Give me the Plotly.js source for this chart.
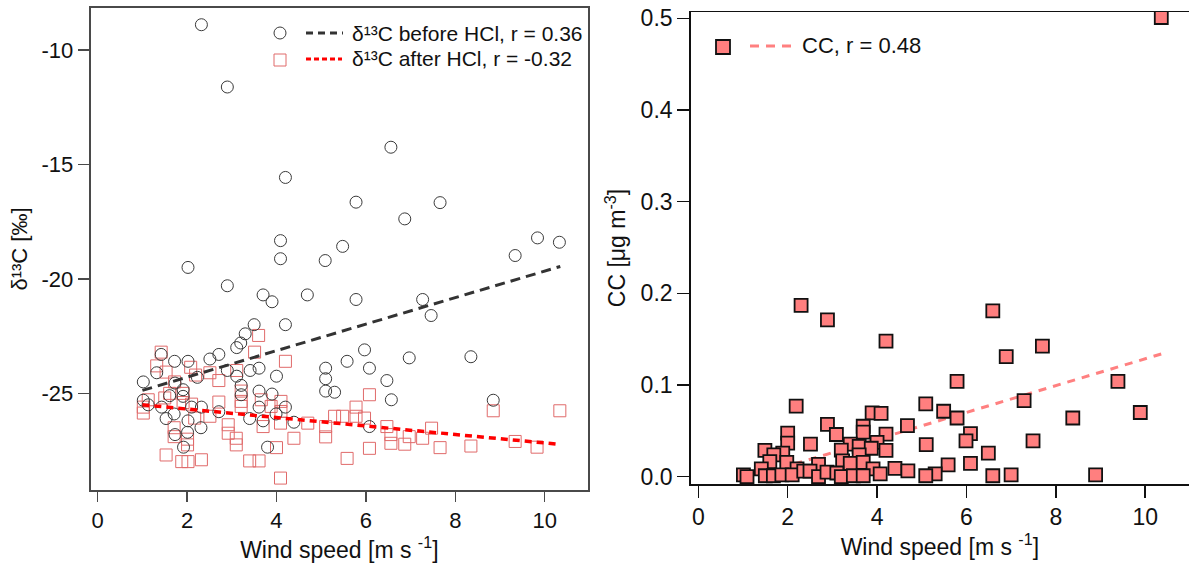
<!DOCTYPE html>
<html>
<head>
<meta charset="utf-8">
<script src="https://cdn.plot.ly/plotly-3.0.1.min.js"></script>
<style>html,body{margin:0;padding:0;background:#fff;}#chart{width:1189px;height:564px;}</style>
</head>
<body>
<div id="chart"></div>
<script>
// ---- Left panel: δ13C vs wind speed ----
const beforeX = [2.32,2.9,6.56,4.2,5.78,7.66,6.87,4.09,4.09,5.09,5.48,9.34,9.84,10.33,2.02,2.9,3.7,3.9,4.69,3.5,4.2,3.3,3.2,3.11,2.71,2.51,2.02,1.72,1.42,1.32,1.02,1.73,2.23,2.9,3.11,3.41,3.61,4.0,5.1,5.1,5.1,5.3,1.02,1.13,1.43,1.61,1.91,1.91,1.71,1.53,1.73,2.01,1.92,2.1,2.32,2.02,2.31,2.71,3.21,3.21,3.61,3.9,3.61,3.4,3.7,3.99,4.2,4.39,3.8,5.78,7.27,7.46,5.97,5.58,6.97,8.35,6.08,6.47,6.57,8.85,6.08];
const beforeY = [-8.9,-11.62,-14.25,-15.57,-16.65,-16.67,-17.38,-18.33,-19.12,-19.2,-18.58,-18.98,-18.21,-18.4,-19.5,-20.3,-20.7,-21.0,-20.7,-22.0,-22.0,-22.4,-22.8,-23.0,-23.3,-23.5,-23.6,-23.6,-23.3,-24.1,-24.5,-24.55,-24.3,-24.0,-24.25,-24.0,-23.9,-24.25,-23.9,-24.36,-24.9,-24.95,-25.3,-25.5,-25.6,-25.1,-24.84,-25.13,-25.9,-26.1,-26.8,-26.7,-27.35,-25.6,-25.6,-26.2,-26.5,-25.8,-24.65,-25.06,-24.9,-25.03,-25.6,-26.1,-26.2,-25.9,-25.6,-26.26,-27.35,-20.9,-20.9,-21.6,-23.1,-23.6,-23.45,-23.4,-23.9,-24.44,-25.28,-25.3,-26.45];

const afterX = [3.6,3.51,4.2,1.42,1.32,1.53,2.08,2.19,2.51,2.71,3.11,1.72,1.61,1.91,3.21,1.02,1.02,1.13,1.5,1.91,2.1,2.71,3.21,3.21,3.66,3.88,4.1,4.1,2.51,2.17,2.92,2.92,3.1,3.1,3.7,4.09,4.7,4.39,5.1,5.1,5.3,1.71,1.71,2.01,2.01,1.53,1.88,2.02,2.32,3.4,3.61,4.0,4.09,6.08,5.78,5.48,5.78,5.97,6.47,6.56,6.56,6.87,6.97,7.27,7.47,6.08,5.58,7.66,8.35,8.85,9.34,9.83,10.34];
const afterY = [-22.47,-23.2,-23.6,-23.2,-23.8,-24.07,-23.86,-24.2,-24.1,-24.44,-24.0,-24.5,-25.0,-25.0,-24.9,-25.6,-25.86,-25.28,-25.2,-25.4,-25.47,-25.38,-25.35,-25.57,-25.28,-25.57,-25.35,-25.79,-26.0,-26.08,-26.37,-26.74,-26.96,-27.25,-26.45,-26.3,-26.3,-26.96,-26.45,-26.9,-26.0,-26.5,-26.89,-27.0,-27.25,-27.69,-27.98,-27.98,-27.9,-27.95,-27.95,-27.37,-28.7,-25.06,-25.6,-26.0,-26.0,-26.08,-26.45,-26.8,-27.18,-27.22,-26.89,-26.96,-26.52,-27.4,-27.84,-27.37,-27.3,-25.76,-27.1,-27.35,-25.76];

// linear fits: [intercept, slope], x extent
const fitBefore = [-25.45, 0.579];
const fitBeforeRange = [1.0, 10.35];
const fitAfter = [-25.315, -0.185];
const fitAfterRange = [1.0, 10.25];

// ---- Right panel: CC vs wind speed ----
const ccX = [10.36,2.3,2.89,4.2,6.59,7.7,6.89,5.79,9.39,7.29,5.49,5.79,8.38,9.89,5.09,6.09,5.99,7.49,5.1,6.49,5.59,6.09,5.3,6.59,7.0,8.89,2.19,3.89,4.09,2.89,3.69,3.69,3.09,2.0,2.0,4.68,4.2,2.51,4.0,4.2,3.4,3.6,3.87,3.2,1.49,1.89,1.69,3.6,1.6,1.98,2.69,3.23,3.4,3.69,1.41,3.91,4.4,4.69,2.21,1.01,1.09,1.5,1.68,1.87,2.1,2.36,2.5,2.69,2.88,3.1,3.2,3.47,3.69,4.07,5.09];
const ccY = [0.501,0.187,0.171,0.148,0.181,0.1425,0.131,0.104,0.104,0.083,0.0714,0.064,0.064,0.070,0.0795,0.047,0.039,0.039,0.035,0.0256,0.0128,0.0146,0.003,0.001,0.002,0.002,0.077,0.0696,0.069,0.057,0.055,0.0487,0.046,0.0476,0.0366,0.0557,0.0465,0.0355,0.0374,0.0286,0.0355,0.033,0.031,0.029,0.0286,0.0256,0.0238,0.0238,0.0165,0.0157,0.0135,0.0172,0.0146,0.0157,0.0085,0.0085,0.0091,0.0063,0.0085,0.0019,0.0,0.001,0.001,0.002,0.002,0.006,0.006,0.0,0.005,0.004,0.0,0.001,0.001,0.003,0.001];
const fitCC = [-0.0177, 0.01463];
const fitCCRange = [2.15, 10.37];

const xTicks = [0,2,4,6,8,10];
const leftYTicks = [-10,-15,-20,-25];
const leftYTickText = ['-10','-15','-20','-25'];
const rightYTicks = [0,0.1,0.2,0.3,0.4,0.5];

const legendBefore = 'δ¹³C before HCl, r = 0.36';
const legendAfter = 'δ¹³C after HCl, r = -0.32';
const legendCC = 'CC, r = 0.48';

// ---- helpers ----
const W = 1189, H = 564;
const px = v => v / W;
const py = v => 1 - v / H;
const fitLine = (coef, range) => ({x: range, y: range.map(v => coef[0] + coef[1] * v)});

const fb = fitLine(fitBefore, fitBeforeRange);
const fa = fitLine(fitAfter, fitAfterRange);
const fc = fitLine(fitCC, fitCCRange);

const FONT = 'Liberation Sans, Arial, sans-serif';

const traces = [
  {x: afterX, y: afterY, type: 'scatter', mode: 'markers', xaxis: 'x', yaxis: 'y',
   marker: {symbol: 'square-open', size: 12, color: '#e06a6a', line: {width: 1}}},
  {x: beforeX, y: beforeY, type: 'scatter', mode: 'markers', xaxis: 'x', yaxis: 'y',
   marker: {symbol: 'circle-open', size: 12, color: '#3a3a3a', line: {width: 1}}},
  {x: fb.x, y: fb.y, type: 'scatter', mode: 'lines', xaxis: 'x', yaxis: 'y',
   line: {color: '#333333', width: 3, dash: '10px,6px'}},
  {x: fa.x, y: fa.y, type: 'scatter', mode: 'lines', xaxis: 'x', yaxis: 'y',
   line: {color: '#ff0000', width: 3.5, dash: '7px,5px'}},
  {x: fc.x, y: fc.y, type: 'scatter', mode: 'lines', xaxis: 'x2', yaxis: 'y2',
   line: {color: '#ff8080', width: 3, dash: '8px,7px'}},
  {x: ccX, y: ccY, type: 'scatter', mode: 'markers', xaxis: 'x2', yaxis: 'y2',
   marker: {symbol: 'square', size: 13, color: '#ff7f7f', line: {color: '#111111', width: 1.8}}}
];

const leftAxisColor = '#4a4a4a';
const layout = {
  width: W, height: H,
  margin: {l: 0, r: 0, t: 0, b: 0},
  paper_bgcolor: '#ffffff', plot_bgcolor: '#ffffff',
  showlegend: false,
  font: {family: FONT, color: '#111'},
  xaxis: {
    anchor: 'y',
    domain: [px(90.7), px(588)], range: [-0.157, 10.97],
    tickvals: xTicks, ticks: 'outside', ticklen: 10, tickwidth: 1.5, tickcolor: leftAxisColor,
    showline: true, linecolor: leftAxisColor, linewidth: 2, mirror: true,
    showgrid: false, zeroline: false,
    tickfont: {size: 22, family: FONT, color: '#111'},
    title: {text: 'Wind speed [m s <sup>-1</sup>]', font: {size: 23, family: FONT, color: '#111'}, standoff: 4}
  },
  yaxis: {
    anchor: 'x',
    domain: [py(490), py(8)], range: [-29.22, -8.17],
    tickvals: leftYTicks, ticktext: leftYTickText, ticks: 'outside', ticklen: 11, tickwidth: 1.5, tickcolor: leftAxisColor,
    showline: true, linecolor: leftAxisColor, linewidth: 2, mirror: true,
    showgrid: false, zeroline: false,
    tickfont: {size: 22, family: FONT, color: '#111'},
    title: {text: 'δ¹³C [‰]', font: {size: 22, family: FONT, color: '#111'}, standoff: 8}
  },
  xaxis2: {
    anchor: 'y2',
    domain: [px(690.7), 1], range: [-0.17, 10.98],
    tickvals: xTicks, ticks: 'outside', ticklen: 12, tickwidth: 1.5, tickcolor: '#111',
    showline: true, linecolor: '#111', linewidth: 1.5, mirror: true,
    showgrid: false, zeroline: false,
    tickfont: {size: 23, family: FONT, color: '#111'},
    title: {text: 'Wind speed [m s <sup>-1</sup>]', font: {size: 23, family: FONT, color: '#111'}, standoff: 4}
  },
  yaxis2: {
    anchor: 'x2',
    domain: [py(484), py(12)], range: [-0.008, 0.507],
    tickvals: rightYTicks, tickformat: '.1f', ticks: 'outside', ticklen: 12, tickwidth: 1.5, tickcolor: '#111',
    showline: true, linecolor: '#111', linewidth: 1.5, mirror: false,
    showgrid: false, zeroline: false,
    tickfont: {size: 23, family: FONT, color: '#111'},
    title: {text: 'CC [μg m<sup>-3</sup>]', font: {size: 23, family: FONT, color: '#111'}, standoff: 8}
  },
  shapes: [
    // left legend samples
    {type: 'circle', xref: 'paper', yref: 'paper', x0: px(274), x1: px(286), y0: py(39), y1: py(27), line: {color: '#3a3a3a', width: 1}},
    {type: 'line', xref: 'paper', yref: 'paper', x0: px(306), x1: px(343), y0: py(33), y1: py(33), line: {color: '#333', width: 3, dash: '7px,5px'}},
    {type: 'rect', xref: 'paper', yref: 'paper', x0: px(274), x1: px(286), y0: py(66), y1: py(54), line: {color: '#e06a6a', width: 1}},
    {type: 'line', xref: 'paper', yref: 'paper', x0: px(306), x1: px(342), y0: py(59), y1: py(59), line: {color: '#ff0000', width: 3, dash: '5px,3px'}},
    // right legend samples
    {type: 'rect', xref: 'paper', yref: 'paper', x0: px(716), x1: px(730), y0: py(54), y1: py(40), fillcolor: '#ff7f7f', line: {color: '#111', width: 1.8}},
    {type: 'line', xref: 'paper', yref: 'paper', x0: px(750), x1: px(792), y0: py(46), y1: py(46), line: {color: '#ff8080', width: 3, dash: '9px,7px'}}
  ],
  annotations: [
    {xref: 'paper', yref: 'paper', x: px(350), y: py(33), xanchor: 'left', yanchor: 'middle', showarrow: false,
     text: legendBefore, font: {size: 21, family: FONT, color: '#111'}},
    {xref: 'paper', yref: 'paper', x: px(350), y: py(59), xanchor: 'left', yanchor: 'middle', showarrow: false,
     text: legendAfter, font: {size: 21, family: FONT, color: '#111'}},
    {xref: 'paper', yref: 'paper', x: px(800), y: py(46), xanchor: 'left', yanchor: 'middle', showarrow: false,
     text: legendCC, font: {size: 22, family: FONT, color: '#111'}}
  ]
};

Plotly.newPlot('chart', traces, layout, {staticPlot: true, displayModeBar: false});
</script>
</body>
</html>
